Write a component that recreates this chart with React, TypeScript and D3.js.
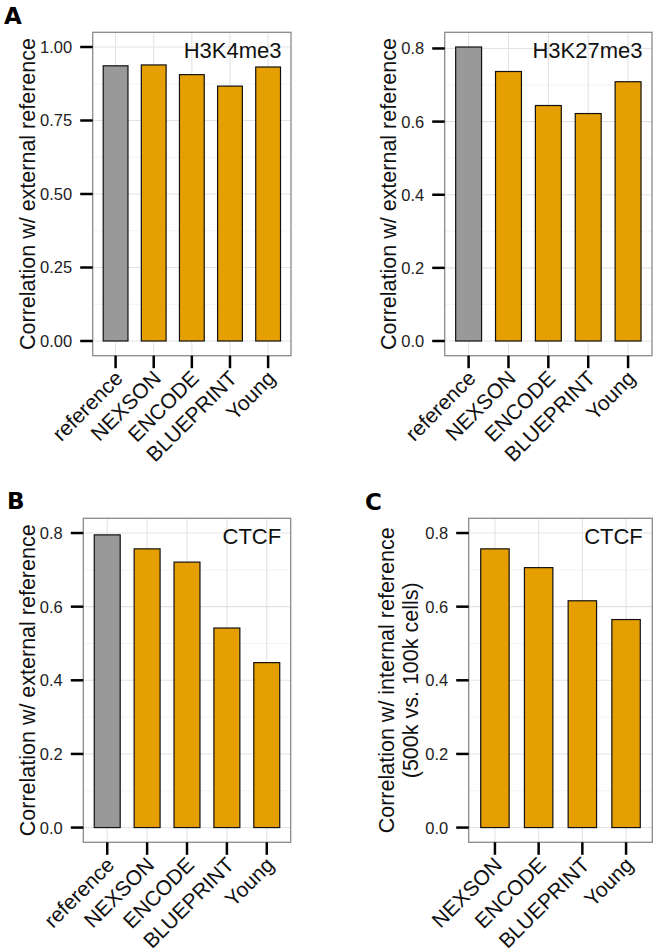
import React from "react";
import * as d3 from "d3";

// ---------- data ----------
const categoriesExternal = ["reference", "NEXSON", "ENCODE", "BLUEPRINT", "Young"];
const categoriesInternal = ["NEXSON", "ENCODE", "BLUEPRINT", "Young"];

const h3k4me3Values = [0.936, 0.939, 0.906, 0.867, 0.932];
const h3k27me3Values = [0.804, 0.737, 0.644, 0.622, 0.709];
const ctcfExternalValues = [0.795, 0.757, 0.721, 0.542, 0.448];
const ctcfInternalValues = [0.757, 0.706, 0.616, 0.565];

const ticksQuarter = [0, 0.25, 0.5, 0.75, 1.0];
const ticksFifth = [0, 0.2, 0.4, 0.6, 0.8];
const minorQuarter = [0.125, 0.375, 0.625, 0.875];
const minorFifth = [0.1, 0.3, 0.5, 0.7];

const domainA = [-0.05, 1.05];
const domainA2 = [-0.0402, 0.8442];
const domainB = [-0.04, 0.84];
const domainC = [-0.04, 0.84];

const REF_FILL = "#999999";
const SAMPLE_FILL = "#E69F00";
const FONT = "'Liberation Sans', Arial, Helvetica, sans-serif";

type PanelProps = {
  cats: string[];
  values: number[];
  domain: number[];
  ticks: number[];
  minor: number[];
  tickFmt: string;
  label: string;
  left: number;
  right: number;
  top: number;
  bottom: number;
  titleLines: string[];
  titleX: number;
};

function Panel(p: PanelProps) {
  const x = d3
    .scaleBand<string>()
    .domain(p.cats)
    .range([p.left, p.right])
    .paddingInner(0)
    .paddingOuter(0.1);
  const y = d3.scaleLinear().domain(p.domain).range([p.bottom, p.top]);
  const fmt = d3.format(p.tickFmt);
  const step = x.step();
  const bw = step * 0.65;
  const cx = (c: string) => (x(c) as number) + x.bandwidth() / 2;
  const tickLen = 12.5;
  const cy = (p.top + p.bottom) / 2;
  return (
    <g>
      <rect x={p.left} y={p.top} width={p.right - p.left} height={p.bottom - p.top} fill="#ffffff" />
      {p.minor.map((v) => (
        <line key={"mn" + v} x1={p.left} x2={p.right} y1={y(v)} y2={y(v)} stroke="#f0f0f0" strokeWidth={0.8} />
      ))}
      {p.ticks.map((v) => (
        <line key={"mj" + v} x1={p.left} x2={p.right} y1={y(v)} y2={y(v)} stroke="#e3e3e3" strokeWidth={1.1} />
      ))}
      {p.cats.map((c) => (
        <line key={"vg" + c} x1={cx(c)} x2={cx(c)} y1={p.top} y2={p.bottom} stroke="#e3e3e3" strokeWidth={1.1} />
      ))}
      {p.cats.map((c, i) => (
        <rect
          key={"bar" + c}
          x={cx(c) - bw / 2}
          y={y(p.values[i])}
          width={bw}
          height={y(0) - y(p.values[i])}
          fill={c === "reference" ? REF_FILL : SAMPLE_FILL}
          stroke="#111111"
          strokeWidth={1.2}
        />
      ))}
      <rect
        x={p.left}
        y={p.top}
        width={p.right - p.left}
        height={p.bottom - p.top}
        fill="none"
        stroke="#8a8a8a"
        strokeWidth={1.3}
      />
      <text
        x={p.right - 9.5}
        y={p.top + 25.5}
        textAnchor="end"
        fontFamily={FONT}
        fontSize={22}
        fill="#111"
      >
        {p.label}
      </text>
      {p.ticks.map((v) => (
        <g key={"yt" + v}>
          <line x1={p.left - tickLen} x2={p.left} y1={y(v)} y2={y(v)} stroke="#000" strokeWidth={2.5} />
          <text
            x={p.left - tickLen - 8}
            y={y(v)}
            dy="0.36em"
            textAnchor="end"
            fontFamily={FONT}
            fontSize={16.5}
            fill="#222"
          >
            {fmt(v)}
          </text>
        </g>
      ))}
      {p.cats.map((c) => (
        <g key={"xt" + c}>
          <line x1={cx(c)} x2={cx(c)} y1={p.bottom} y2={p.bottom + tickLen} stroke="#000" strokeWidth={2.5} />
          <text
            transform={`translate(${cx(c) + 8.4},${p.bottom + tickLen + 11.4}) rotate(-45)`}
            textAnchor="end"
            fontFamily={FONT}
            fontSize={21}
            fill="#111"
          >
            {c}
          </text>
        </g>
      ))}
      {p.titleLines.map((t, i) => (
        <text
          key={"tt" + i}
          transform={`translate(${p.titleX + i * 24},${cy}) rotate(-90)`}
          textAnchor="middle"
          fontFamily={FONT}
          fontSize={21.5}
          fill="#111"
        >
          {t}
        </text>
      ))}
    </g>
  );
}

export default function App() {
  const letterStyle = { fontFamily: "'DejaVu Sans', sans-serif", fontWeight: 700, fontSize: 23 } as const;
  return (
    <svg
      width={661}
      height={952}
      viewBox="0 0 661 952"
      style={{ position: "absolute", left: 0, top: 0, background: "#ffffff" }}
    >
      <rect x={0} y={0} width={661} height={952} fill="#ffffff" />
      <Panel
        cats={categoriesExternal}
        values={h3k4me3Values}
        domain={domainA}
        ticks={ticksQuarter}
        minor={minorQuarter}
        tickFmt=".2f"
        label="H3K4me3"
        left={92.7}
        right={291}
        top={32.3}
        bottom={355.7}
        titleLines={["Correlation w/ external reference"]}
        titleX={35}
      />
      <Panel
        cats={categoriesExternal}
        values={h3k27me3Values}
        domain={domainA2}
        ticks={ticksFifth}
        minor={minorFifth}
        tickFmt=".1f"
        label="H3K27me3"
        left={444.7}
        right={652}
        top={32.3}
        bottom={355.7}
        titleLines={["Correlation w/ external reference"]}
        titleX={396}
      />
      <Panel
        cats={categoriesExternal}
        values={ctcfExternalValues}
        domain={domainB}
        ticks={ticksFifth}
        minor={minorFifth}
        tickFmt=".1f"
        label="CTCF"
        left={83.3}
        right={290.7}
        top={518.3}
        bottom={842.3}
        titleLines={["Correlation w/ external reference"]}
        titleX={35}
      />
      <Panel
        cats={categoriesInternal}
        values={ctcfInternalValues}
        domain={domainC}
        ticks={ticksFifth}
        minor={minorFifth}
        tickFmt=".1f"
        label="CTCF"
        left={468.7}
        right={652.3}
        top={518.3}
        bottom={842.3}
        titleLines={["Correlation w/ internal reference", "(500k vs. 100k cells)"]}
        titleX={394}
      />
      <text x={4} y={24} {...letterStyle}>A</text>
      <text x={7} y={509} {...letterStyle}>B</text>
      <text x={365} y={510} {...letterStyle}>C</text>
    </svg>
  );
}
